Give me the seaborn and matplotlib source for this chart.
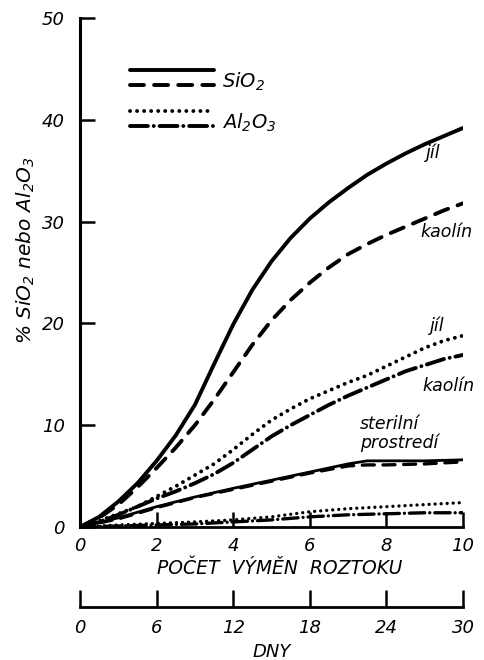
import matplotlib
matplotlib.use("Agg")
import matplotlib.pyplot as plt
import seaborn as sns
from matplotlib.lines import Line2D
from matplotlib.legend_handler import HandlerBase

# ---------------- data ----------------
x_exchanges = [0, 0.5, 1, 1.5, 2, 2.5, 3, 3.5, 4, 4.5, 5, 5.5, 6, 6.5, 7, 7.5, 8, 8.5, 9, 9.5, 10]
sio2_jil    = [0, 1.0, 2.5, 4.3, 6.5, 9.0, 12.0, 16.0, 19.9, 23.3, 26.1, 28.4, 30.3, 31.9, 33.3, 34.6, 35.7, 36.7, 37.6, 38.4, 39.2]
sio2_kaolin = [0, 0.9, 2.2, 3.9, 5.8, 7.8, 10.0, 12.5, 15.2, 17.9, 20.3, 22.3, 24.0, 25.5, 26.8, 27.8, 28.7, 29.5, 30.3, 31.1, 31.8]
al2o3_jil   = [0, 0.6, 1.3, 2.0, 3.0, 4.0, 5.1, 6.2, 7.6, 9.1, 10.5, 11.6, 12.6, 13.4, 14.2, 14.9, 15.8, 16.7, 17.6, 18.3, 18.8]
al2o3_kaolin= [0, 0.5, 1.2, 2.0, 2.8, 3.5, 4.3, 5.2, 6.3, 7.6, 8.9, 10.0, 11.0, 12.0, 12.9, 13.7, 14.5, 15.3, 15.9, 16.5, 16.9]

x_sterile          = [0, 1, 2, 3, 4, 5, 6, 7, 7.5, 8, 9, 10]
sio2_sterile_solid = [0, 0.9, 2.0, 2.95, 3.8, 4.6, 5.4, 6.2, 6.5, 6.5, 6.5, 6.6]
sio2_sterile_dash  = [0, 0.8, 1.9, 2.9, 3.7, 4.5, 5.3, 6.0, 6.1, 6.1, 6.2, 6.4]
al2o3_sterile_dot  = [0, 0.2, 0.35, 0.5, 0.7, 1.0, 1.5, 1.8, 1.9, 2.0, 2.2, 2.4]
al2o3_sterile_dd   = [0, 0.1, 0.2, 0.3, 0.5, 0.7, 1.0, 1.2, 1.25, 1.3, 1.4, 1.4]

x_ticks = [0, 2, 4, 6, 8, 10]
y_ticks = [0, 10, 20, 30, 40, 50]
day_ticks = [0, 6, 12, 18, 24, 30]

# ---------------- style ----------------
sns.set_style("ticks")
plt.rcParams['font.family'] = ['DejaVu Sans']
plt.rcParams['font.style'] = 'italic'
plt.rcParams['mathtext.fontset'] = 'dejavusans'
plt.rcParams['mathtext.default'] = 'it'
for key in ['text.color', 'axes.labelcolor', 'xtick.color', 'ytick.color', 'axes.edgecolor']:
    plt.rcParams[key] = 'black'

K = 'black'
LW = 2.8
DASHED = (0, (3.6, 2.6))
DOTTED = (0, (0.01, 1.8))
DASHDOT = (0, (4.6, 1.5, 0.01, 1.5))

fig = plt.figure(figsize=(4.84, 6.6), dpi=100)
ax = fig.add_axes([0.1653, 0.2015, 0.7913, 0.7712])

def draw(x, y, ls, lw):
    sns.lineplot(x=x, y=y, ax=ax, color=K, linewidth=lw, linestyle=ls,
                 solid_capstyle='round', dash_capstyle='round', sort=True)

draw(x_exchanges, sio2_jil, '-', LW)
draw(x_exchanges, sio2_kaolin, DASHED, LW)
draw(x_exchanges, al2o3_jil, DOTTED, LW)
draw(x_exchanges, al2o3_kaolin, DASHDOT, LW)
draw(x_sterile, sio2_sterile_solid, '-', 2.0)
draw(x_sterile, sio2_sterile_dash, DASHED, 2.4)
draw(x_sterile, al2o3_sterile_dot, DOTTED, 2.4)
draw(x_sterile, al2o3_sterile_dd, DASHDOT, 2.4)

ax.set_xlim(0, 10)
ax.set_ylim(0, 50)
ax.set_xticks(x_ticks)
ax.set_yticks(y_ticks)
ax.set_xticklabels([str(v) for v in x_ticks], fontsize=13)
ax.set_yticklabels([str(v) for v in y_ticks], fontsize=13)
ax.tick_params(axis='x', direction='in', length=11, width=1.8, pad=7)
ax.tick_params(axis='y', direction='in', length=11, width=1.8, pad=11)
for s in ['top', 'right']:
    ax.spines[s].set_visible(False)
ax.spines['left'].set_linewidth(2.2)
ax.spines['bottom'].set_linewidth(2.0)

ax.set_xlabel('POČET  VÝMĚN  ROZTOKU', fontsize=13.5)
ax.xaxis.set_label_coords(0.522, -0.063)
ax.set_ylabel('% SiO$_2$ nebo Al$_2$O$_3$', fontsize=14.5)
ax.yaxis.set_label_coords(-0.113, 0.544)

# curve labels
lab = dict(fontsize=12.5, ha='center', va='center')
ax.text(9.22, 36.8, 'jíl', **lab)
ax.text(9.58, 29.0, 'kaolín', **lab)
ax.text(9.32, 19.8, 'jíl', **lab)
ax.text(9.61, 13.9, 'kaolín', **lab)
ax.text(7.31, 10.1, 'sterilní', fontsize=12.5, ha='left', va='center')
ax.text(7.31, 8.25, 'prostredí', fontsize=12.5, ha='left', va='center')

# legend with two stacked line keys per entry
class TwoLines(HandlerBase):
    def create_artists(self, legend, orig_handle, xdescent, ydescent,
                       width, height, fontsize, trans):
        yc = (height - ydescent) / 2
        arts = []
        for ls, dy in zip(orig_handle, (8.0, -3.0)):
            l = Line2D([-xdescent, -xdescent + width], [yc + dy, yc + dy],
                       color=K, lw=LW, linestyle=ls,
                       solid_capstyle='round', dash_capstyle='round',
                       transform=trans)
            arts.append(l)
        return arts

h1 = ('-', DASHED)
h2 = (DOTTED, DASHDOT)
ax.legend([h1, h2], ['SiO$_2$', 'Al$_2$O$_3$'], handler_map={tuple: TwoLines()},
          loc='upper left', bbox_to_anchor=(0.1305, 0.896), frameon=False,
          borderpad=0, borderaxespad=0, handlelength=4.3, handletextpad=0.45,
          labelspacing=0.95, fontsize=14)

# days axis
sec = ax.secondary_xaxis(-0.157, functions=(lambda v: v * 3, lambda v: v / 3))
sec.set_xticks(day_ticks)
sec.set_xticklabels([str(v) for v in day_ticks], fontsize=13)
sec.tick_params(axis='x', direction='in', length=12, width=1.8, pad=9)
sec.spines['bottom'].set_linewidth(2.0)
sec.set_xlabel('DNY', fontsize=13, labelpad=4)

fig.savefig('out.png', dpi=100)
